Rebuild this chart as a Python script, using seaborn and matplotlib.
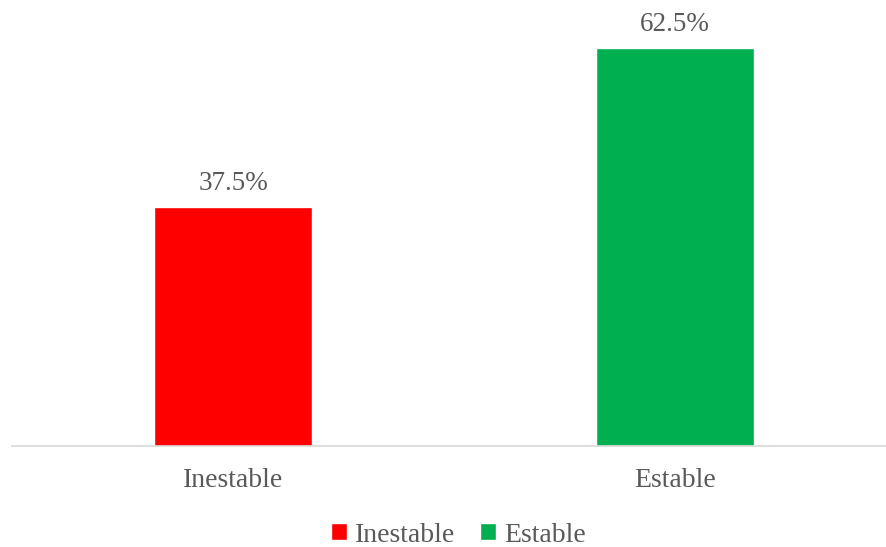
import matplotlib
matplotlib.use('Agg')
import matplotlib.pyplot as plt
import seaborn as sns

# datos
categorias = ['Inestable', 'Estable']
valores = [37.5, 62.5]
colores = ['#ff0000', '#00b050']

sns.set_style('white')
plt.rcParams['font.family'] = ['Liberation Serif', 'DejaVu Serif']
gris = '#595959'

fig = plt.figure(figsize=(8.87, 5.47), dpi=100)
ax = fig.add_axes([12 / 887, 101 / 547, 874 / 887, 446 / 547])

sns.barplot(x=categorias, y=valores, hue=categorias, palette=colores,
            width=0.357, saturation=1, legend=True, ax=ax)

ax.set_xlim(-0.5, 1.477)
ax.set_ylim(0, 70)
ax.set_yticks([])
ax.set_xlabel('')
ax.set_ylabel('')
for s in ['top', 'right', 'left']:
    ax.spines[s].set_visible(False)
ax.spines['bottom'].set_color('#d9d9d9')
ax.spines['bottom'].set_linewidth(1.2)
ax.tick_params(axis='x', length=0, pad=16, labelsize=20, labelcolor=gris)

# etiquetas de datos
for cont in ax.containers:
    ax.bar_label(cont, labels=[f'{v.get_height():.1f}%' for v in cont],
                 padding=8, fontsize=19.5, color=gris)

handles, labels = ax.get_legend_handles_labels()
ax.get_legend().remove()
fig.legend(handles, labels, loc='center', bbox_to_anchor=(458.5 / 887, 12 / 547),
           ncol=2, frameon=False, fontsize=20, labelcolor=gris,
           handlelength=0.55, handleheight=0.55, handletextpad=0.3,
           columnspacing=0.9, borderpad=0)

fig.savefig('out.png', dpi=100)
